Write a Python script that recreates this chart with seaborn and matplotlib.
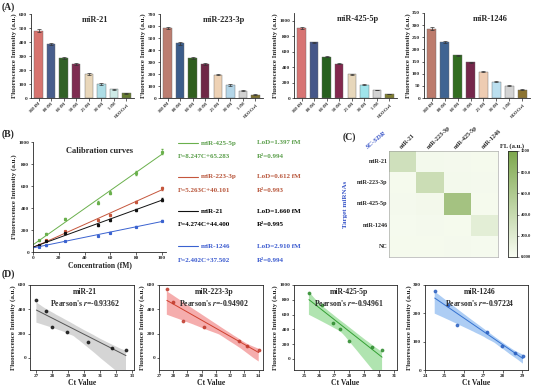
import matplotlib
matplotlib.use("Agg")

import numpy as np
import pandas as pd
import matplotlib.pyplot as plt
import seaborn as sns
from matplotlib.colors import LinearSegmentedColormap

sns.set_style("ticks")
plt.rcParams["font.family"] = ["Liberation Serif", "DejaVu Serif"]
plt.rcParams["font.weight"] = "bold"
plt.rcParams["axes.labelweight"] = "bold"
plt.rcParams["mathtext.fontset"] = "stix"
plt.rcParams["axes.linewidth"] = 0.6
plt.rcParams["xtick.major.width"] = 0.5
plt.rcParams["ytick.major.width"] = 0.5
plt.rcParams["xtick.major.size"] = 1.8
plt.rcParams["ytick.major.size"] = 1.8
plt.rcParams["xtick.major.pad"] = 1
plt.rcParams["ytick.major.pad"] = 1

# ---------- data ----------
names = ["miR-21", "miR-223-3p", "miR-425-5p", "miR-1246"]
conc_labels = ["100 fM", "80 fM", "60 fM", "50 fM", "25 fM", "10 fM", "5 fM", "H$_2$O Ctrl"]

a_21 = [480, 385, 285, 245, 170, 100, 62, 35]
a_21_err = [10, 9, 6, 8, 8, 5, 3, 3]
a_223 = [580, 455, 335, 283, 193, 108, 60, 28]
a_223_err = [8, 10, 8, 6, 5, 12, 4, 4]
a_425 = [910, 720, 535, 445, 305, 170, 105, 52]
a_425_err = [12, 6, 8, 6, 6, 8, 4, 3]
a_1246 = [285, 230, 175, 147, 108, 67, 50, 35]
a_1246_err = [6, 3, 2, 2, 2, 3, 2, 2]

pal_21 = ["#e8645e", "#3d5a98", "#2c6b1c", "#8c1f50", "#f1d9b2", "#a3e4f0", "#c9f0ea", "#6b8a24"]
pal_223 = ["#c97563", "#2f5b98", "#2b6a14", "#7b1c44", "#f7d2ac", "#acd9f0", "#d3d3d3", "#8a7a22"]
pal_425 = ["#e86462", "#3b5294", "#1f6b14", "#92194b", "#efd9b3", "#93eef8", "#d3d3d3", "#8b8a24"]
pal_1246 = ["#c9735f", "#3162a0", "#2b7a14", "#821a4a", "#f8caa8", "#b2e2f8", "#d3d3d3", "#9b7b22"]

# calibration curves
b_conc = [5, 10, 25, 50, 60, 80, 100]
b_425 = [105, 165, 300, 450, 540, 720, 910]
b_223 = [60, 110, 190, 290, 340, 455, 580]
b_21 = [62, 100, 170, 245, 290, 385, 475]
b_1246 = [50, 60, 100, 150, 175, 230, 285]
b_order = ["miR-425-5p", "miR-223-3p", "miR-21", "miR-1246"]
b_slope = [8.247, 5.263, 4.274, 2.402]
b_icpt = [65.283, 40.101, 44.400, 37.502]
b_lod = ["1.397", "0.612", "1.660", "2.910"]
b_r2 = ["0.994", "0.993", "0.995", "0.994"]

# heatmap
hm_rows = ["miR-21", "miR-223-3p", "miR-425-5p", "miR-1246", "NC"]
hm_cols = ["miR-21", "miR-223-3p", "miR-425-5p", "miR-1246"]
hm_vals = [[330, 40, 35, 30],
           [30, 370, 40, 35],
           [35, 45, 680, 30],
           [25, 35, 30, 170],
           [30, 30, 35, 25]]
cb_ticks = [0, 200, 400, 600, 800, 1000]
cb_labels = ["0.000", "200.0", "400.0", "600.0", "800.0", "1000"]

# Ct correlation
d_21_ct = [27.0, 27.6, 28.0, 28.9, 30.2, 31.7, 32.6]
d_21_fl = [475, 383, 258, 217, 133, 83, 67]
d_223_ct = [27.55, 27.95, 28.7, 30.15, 32.65, 33.2, 34.0]
d_223_fl = [567, 457, 301, 255, 142, 101, 68]
d_425_ct = [25.3, 26.2, 26.9, 27.4, 28.0, 29.5, 30.2]
d_425_fl = [886, 727, 482, 400, 241, 159, 114]
d_1246_ct = [24.5, 25.16, 25.66, 27.2, 27.98, 28.64, 29.04]
d_1246_fl = [278, 229, 158, 133, 86, 60, 49]
pearson = ["-0.93362", "-0.94902", "-0.94961", "-0.97224"]

# ---------- layout ----------
W, H = 534, 387
fig = plt.figure(figsize=(W / 100, H / 100), dpi=100)


def box(x0, y0, x1, y1):
    return [x0 / W, 1 - y1 / H, (x1 - x0) / W, (y1 - y0) / H]


def ftext(x, y, s, **kw):
    fig.text(x / W, 1 - y / H, s, **kw)


TICK = 3.8
LAB = 5.0

# ---------- (A) ----------
a_vals = [a_21, a_223, a_425, a_1246]
a_errs = [a_21_err, a_223_err, a_425_err, a_1246_err]
a_pals = [pal_21, pal_223, pal_425, pal_1246]
a_boxes = [(31, 14, 134, 98), (160, 14, 263, 98), (294, 13, 397, 98), (424, 13, 530, 98)]
a_ylim = [600, 700, 1100, 350]
a_step = [100, 100, 200, 50]

for i in range(4):
    ax = fig.add_axes(box(*a_boxes[i]))
    df = pd.DataFrame({"conc": conc_labels, "val": a_vals[i]})
    sns.barplot(data=df, x="conc", y="val", hue="conc", palette=a_pals[i],
                legend=False, width=0.68, ax=ax, edgecolor="#666666", linewidth=0.3)
    ax.errorbar(np.arange(8), a_vals[i], yerr=a_errs[i], fmt="none",
                ecolor="#333333", elinewidth=0.5, capsize=1.2, capthick=0.5)
    ax.set_ylim(0, a_ylim[i])
    ax.set_yticks(np.arange(0, a_ylim[i] + 1, a_step[i]) if i != 2 else np.arange(0, 1001, 200))
    ax.set_xlim(-0.6, 7.6)
    ax.set_xlabel("")
    ax.set_ylabel("Fluorescence Intensity (a.u.)", fontsize=LAB, labelpad=1)
    ax.tick_params(axis="y", labelsize=TICK)
    ax.tick_params(axis="x", labelsize=3.2)
    plt.setp(ax.get_xticklabels(), rotation=45, ha="right", rotation_mode="anchor")
    ax.text(0.62, 0.9, names[i], transform=ax.transAxes, ha="center",
            fontsize=6, fontweight="bold")
    sns.despine(ax=ax)

ftext(2, 10, "(A)", fontsize=7, fontweight="bold")

# ---------- (B) ----------
axb = fig.add_axes(box(33, 142, 166, 252))
b_series = [b_425, b_223, b_21, b_1246]
b_line_col = ["#6ab04c", "#c5563c", "#111111", "#3a62d0"]
b_text_col = ["#5a9e4a", "#b8553a", "#000000", "#3a5acf"]
xs = np.array([0, 100])
for k in range(4):
    axb.errorbar(b_conc, b_series[k], yerr=np.array(b_series[k]) * 0.025, fmt="s",
                 ms=1.3, color=b_line_col[k], elinewidth=0.4, capsize=0.8)
    sns.lineplot(x=xs, y=b_slope[k] * xs + b_icpt[k], color=b_line_col[k], lw=0.7, ax=axb)
axb.set_xlim(0, 103)
axb.set_ylim(0, 1000)
axb.set_xticks([0, 20, 40, 60, 80, 100])
axb.set_yticks([0, 200, 400, 600, 800, 1000])
axb.tick_params(labelsize=TICK)
axb.set_xlabel("Concentration (fM)", fontsize=LAB + 0.5, labelpad=1)
axb.set_ylabel("Fluorescence Intensity (a.u.)", fontsize=LAB, labelpad=1)
axb.text(0.5, 0.9, "Calibration curves", transform=axb.transAxes, ha="center",
         fontsize=6, fontweight="bold")
sns.despine(ax=axb)
ftext(2, 137, "(B)", fontsize=7, fontweight="bold")

row_y = [143, 177, 211, 246]
for k in range(4):
    y1 = row_y[k]
    fig.add_artist(plt.Line2D([178 / W, 198 / W], [1 - y1 / H, 1 - y1 / H],
                              color=b_line_col[k], lw=0.8))
    ftext(201, y1, b_order[k], color=b_text_col[k], fontsize=5, va="center")
    ftext(257, y1, "LoD=" + b_lod[k] + " fM", color=b_text_col[k], fontsize=5, va="center")
    ftext(178, y1 + 14, "F=%.3fC+%.3f" % (b_slope[k], b_icpt[k]), color=b_text_col[k],
          fontsize=5, va="center")
    ftext(257, y1 + 14, "R\u00b2=" + b_r2[k], color=b_text_col[k], fontsize=5, va="center")

# ---------- (C) ----------
axc = fig.add_axes(box(389, 151, 498, 257))
cax = fig.add_axes(box(508, 151, 517, 257))
cmap = LinearSegmentedColormap.from_list("fl", ["#f8fcf2", "#7da74d"])
hm_df = pd.DataFrame(hm_vals, index=hm_rows, columns=hm_cols)
sns.heatmap(hm_df, ax=axc, cbar_ax=cax, cmap=cmap, vmin=0, vmax=1000)
axc.xaxis.tick_top()
axc.tick_params(length=0, labelsize=4.3, pad=1)
plt.setp(axc.get_xticklabels(), rotation=45, ha="left", rotation_mode="anchor")
plt.setp(axc.get_yticklabels(), rotation=0)
for sp in axc.spines.values():
    sp.set_visible(True)
    sp.set_linewidth(0.4)
    sp.set_color("#999999")
cax.set_yticks(cb_ticks)
cax.set_yticklabels(cb_labels)
cax.tick_params(labelsize=3.3, length=1.5, width=0.4, pad=1)
for sp in cax.spines.values():
    sp.set_visible(True)
    sp.set_linewidth(0.4)
ftext(500, 146, "FL (a.u.)", fontsize=4.8, va="center")
ftext(365, 149, "SC-SDR", color="#3a56c8", fontsize=5, rotation=40, fontstyle="italic")
ftext(345, 204, "Target miRNAs", color="#3a56c8", fontsize=5, rotation=90,
      va="center", ha="center")
ftext(343, 140, "(C)", fontsize=7, fontweight="bold")

# ---------- (D) ----------
d_ct = [d_21_ct, d_223_ct, d_425_ct, d_1246_ct]
d_fl = [d_21_fl, d_223_fl, d_425_fl, d_1246_fl]
d_boxes = [(30, 285, 134, 370), (159, 285, 263, 370), (294, 285, 397, 370), (425, 285, 528, 370)]
d_xlim = [(26.6, 33.1), (27.0, 34.3), (24.3, 31.2), (24.0, 29.3)]
d_xticks = [range(27, 34), range(27, 35), range(25, 32), range(24, 30)]
d_ylim = [(-100, 600), (-100, 600), (-150, 1000), (0, 300)]
d_yticks = [range(0, 601, 200), range(0, 601, 200), range(0, 1001, 200), range(0, 301, 100)]
d_line = ["#555555", "#d0402e", "#33a033", "#3572d0"]
d_band = ["#c4c4c4", "#f28a8a", "#8fd98f", "#8ab8f0"]
d_pt = ["#111111", "#c0392b", "#2e8b2e", "#2a5fc0"]

for i in range(4):
    ax = fig.add_axes(box(*d_boxes[i]))
    sns.regplot(x=d_ct[i], y=d_fl[i], ax=ax, ci=95, seed=0, truncate=True,
                scatter_kws={"s": 3, "color": d_pt[i], "zorder": 3},
                line_kws={"color": d_line[i], "lw": 0.7})
    for coll in ax.collections:
        if coll.__class__.__name__ == "PolyCollection" or coll.__class__.__name__ == "FillBetweenPolyCollection":
            coll.set_facecolor(d_band[i])
            coll.set_alpha(0.7)
            coll.set_edgecolor("none")
    ax.set_xlim(*d_xlim[i])
    ax.set_ylim(*d_ylim[i])
    ax.set_xticks(list(d_xticks[i]))
    ax.set_yticks(list(d_yticks[i]))
    ax.tick_params(labelsize=TICK)
    ax.set_xlabel("Ct Value", fontsize=LAB + 0.5, labelpad=1)
    ax.set_ylabel("Fluorescence Intensity (a.u.)", fontsize=LAB, labelpad=1)
    ax.text(0.53, 0.96, names[i], transform=ax.transAxes, ha="center", va="top",
            fontsize=5.5, fontweight="bold")
    ax.text(0.53, 0.85, "Pearson's $r$=" + pearson[i], transform=ax.transAxes,
            ha="center", va="top", fontsize=5.5, fontweight="bold")

ftext(2, 277, "(D)", fontsize=7, fontweight="bold")

fig.savefig("out.png", dpi=100)
